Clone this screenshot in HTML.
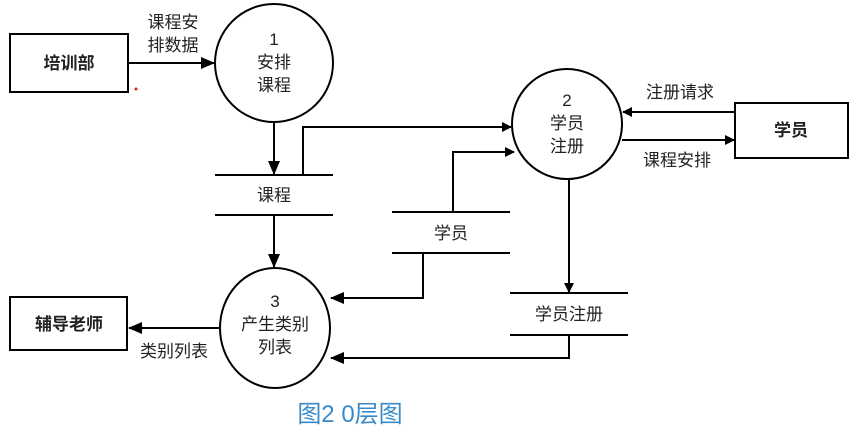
<!DOCTYPE html>
<html><head><meta charset="utf-8"><style>
body{margin:0;background:#fff;}
svg text{font-family:"Liberation Sans","Noto Sans CJK SC",sans-serif;fill:#222;}
</style></head><body>
<svg width="865" height="434" viewBox="0 0 865 434" xmlns="http://www.w3.org/2000/svg">
<defs><marker id="a" markerWidth="10" markerHeight="10" refX="9" refY="5" orient="auto" markerUnits="userSpaceOnUse"><path d="M0,0 L10,5 L0,10 z" fill="#000"/></marker>
<marker id="b" markerWidth="14" markerHeight="12" refX="13" refY="6" orient="auto" markerUnits="userSpaceOnUse"><path d="M0,0 L14,6 L0,12 z" fill="#000"/></marker></defs>
<g stroke="#000" stroke-width="2" fill="none">
<rect x="10" y="34" width="118" height="58"/>
<rect x="735" y="103" width="113" height="55"/>
<rect x="10" y="297" width="117" height="53"/>
<circle cx="274" cy="63" r="59"/>
<circle cx="567" cy="124" r="55"/>
<ellipse cx="275" cy="328" rx="55" ry="60"/>
<line x1="215" y1="175" x2="333" y2="175"/><line x1="215" y1="215" x2="333" y2="215"/>
<line x1="392" y1="212" x2="510" y2="212"/><line x1="392" y1="253" x2="510" y2="253"/>
<line x1="510" y1="293" x2="628" y2="293"/><line x1="510" y1="335" x2="628" y2="335"/>
<line x1="128" y1="63" x2="214" y2="63" marker-end="url(#b)"/>
<line x1="274" y1="122" x2="274" y2="174" marker-end="url(#b)"/>
<line x1="274" y1="215" x2="274" y2="267" marker-end="url(#b)"/>
<polyline points="303,175 303,127 511,127" marker-end="url(#a)"/>
<polyline points="453,212 453,152 514,152" marker-end="url(#a)"/>
<polyline points="423,253 423,298 331,298" marker-end="url(#b)"/>
<line x1="569" y1="179" x2="569" y2="292" marker-end="url(#a)"/>
<polyline points="569,335 569,358 331,358" marker-end="url(#b)"/>
<line x1="220" y1="328" x2="129" y2="328" marker-end="url(#b)"/>
<line x1="735" y1="112" x2="623" y2="112" marker-end="url(#a)"/>
<line x1="622" y1="140" x2="734" y2="140" marker-end="url(#a)"/>
</g>
<circle cx="136" cy="89" r="1.5" fill="#e02020"/>
<g font-size="17" text-anchor="middle">
<text x="69" y="69" font-weight="bold">培训部</text>
<text x="791" y="136" font-weight="bold">学员</text>
<text x="69" y="330" font-weight="bold">辅导老师</text>
<text x="173" y="28">课程安</text><text x="173" y="51">排数据</text>
<text x="274" y="45">1</text><text x="274" y="68">安排</text><text x="274" y="91">课程</text>
<text x="567" y="106">2</text><text x="567" y="129">学员</text><text x="567" y="152">注册</text>
<text x="275" y="307">3</text><text x="275" y="330">产生类别</text><text x="275" y="353">列表</text>
<text x="274" y="201">课程</text>
<text x="451" y="239">学员</text>
<text x="569" y="320">学员注册</text>
<text x="680" y="98">注册请求</text>
<text x="677" y="166">课程安排</text>
<text x="174" y="357">类别列表</text>
</g>
<text x="350" y="422" font-size="24" text-anchor="middle" style="fill:#3a8ac8">图2 0层图</text>
</svg>
</body></html>
